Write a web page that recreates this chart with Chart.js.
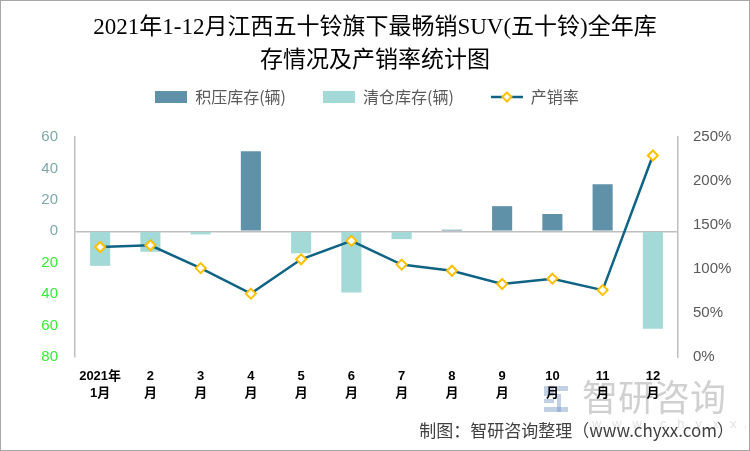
<!DOCTYPE html>
<html>
<head>
<meta charset="utf-8">
<script src="https://cdn.jsdelivr.net/npm/chart.js@4"></script>
<style>
html,body{margin:0;padding:0;background:#fff;}
#wrap{width:750px;height:451px;position:relative;}
</style>
</head>
<body>
<div id="wrap"><canvas id="c" width="750" height="451"></canvas></div>
<script>
// ---- data ----
const months = [["2021年","1月"],["2","月"],["3","月"],["4","月"],["5","月"],["6","月"],["7","月"],["8","月"],["9","月"],["10","月"],["11","月"],["12","月"]];
const overstock = [null,null,null,51,null,null,null,1,16,11,30,null];   // 积压库存(辆)
const clearance = [-22,-13,-2,null,-14,-39,-5,null,null,null,null,-62]; // 清仓库存(辆)
const salesRate = [125,127,101,72,111,132,105,98,83,89,76,229];          // 产销率 (%)
const leftTicks = [60,40,20,0,-20,-40,-60,-80];
const rightTicks = [0,50,100,150,200,250];
const seriesNames = ["积压库存(辆)","清仓库存(辆)","产销率"];
const titleLines = ["2021年1-12月江西五十铃旗下最畅销SUV(五十铃)全年库","存情况及产销率统计图"];

const C_DARK = "#5f91a8", C_LIGHT = "#a3d9d6", C_LINE = "#0f6384", C_MARK = "#ffc000";
const CJK = '"Noto Sans CJK SC", "Noto Sans", sans-serif';

function swatch(color){
  const c=document.createElement('canvas'); c.width=32; c.height=12;
  const x=c.getContext('2d'); x.fillStyle=color; x.fillRect(0,0,32,12); return c;
}
function lineSwatch(){
  const c=document.createElement('canvas'); c.width=32; c.height=12;
  const x=c.getContext('2d');
  x.strokeStyle=C_LINE; x.lineWidth=2.5; x.beginPath(); x.moveTo(0,6); x.lineTo(32,6); x.stroke();
  x.fillStyle="#fff"; x.strokeStyle=C_MARK; x.lineWidth=2;
  x.beginPath(); x.moveTo(16,1.5); x.lineTo(20.5,6); x.lineTo(16,10.5); x.lineTo(11.5,6); x.closePath(); x.fill(); x.stroke();
  return c;
}
const legendIcons=[swatch(C_DARK),swatch(C_LIGHT),lineSwatch()];

const deco = {
  id:'deco',
  afterLayout(chart){
    const t=chart.titleBlock, l=chart.legend;
    if(t){ t.top+=3; t.bottom+=3; }
    if(l){ const dy=52-l.top; l.top+=dy; l.bottom+=dy; l.left-=8; l.right-=8; }
  },
  beforeDraw(chart){
    const ctx=chart.ctx;
    ctx.save();
    ctx.fillStyle="#fff"; ctx.fillRect(0,0,chart.width,chart.height);
    // watermark
    ctx.fillStyle="rgba(120,150,200,0.45)";
    ctx.fillRect(544,386,10,10); ctx.fillRect(557,386,11,5); ctx.fillRect(544,399,10,4);
    ctx.fillRect(557,394,4,18); ctx.fillRect(544,407,24,5);
    ctx.fillStyle="rgba(150,150,150,0.45)";
    ctx.font='36px '+CJK; ctx.textBaseline='middle'; ctx.textAlign='left';
    ctx.fillText("智研咨询",582,397);
    ctx.fillStyle="rgba(170,170,170,0.35)";
    ctx.font='13px "Liberation Sans", sans-serif';
    ctx.fillText("w   w   w  .  c   h   y   x   x  .  c   o   m",592,424);
    ctx.restore();
  },
  afterDraw(chart){
    const ctx=chart.ctx;
    ctx.save();
    ctx.fillStyle="#404040"; ctx.font='17px '+CJK; ctx.textAlign='right'; ctx.textBaseline='middle';
    ctx.fillText("制图：智研咨询整理（www.chyxx.com）",734,431);
    ctx.strokeStyle="#a6a6a6"; ctx.lineWidth=1; ctx.strokeRect(0.5,0.5,749,450);
    ctx.restore();
  }
};

new Chart(document.getElementById('c'),{
  data:{
    labels:months,
    datasets:[
      {type:'line',label:seriesNames[2],data:salesRate,yAxisID:'y1',borderColor:C_LINE,borderWidth:2.5,
       pointStyle:'rectRot',pointRadius:5,pointBorderColor:C_MARK,pointBackgroundColor:'#fff',pointBorderWidth:2,tension:0,order:0},
      {type:'bar',label:seriesNames[0],data:overstock,backgroundColor:C_DARK,yAxisID:'y',grouped:false,categoryPercentage:1,barPercentage:0.4,order:1},
      {type:'bar',label:seriesNames[1],data:clearance,backgroundColor:C_LIGHT,yAxisID:'y',grouped:false,categoryPercentage:1,barPercentage:0.4,order:2}
    ]
  },
  options:{
    responsive:false,animation:false,devicePixelRatio:1,
    layout:{padding:{left:0,right:0,top:0,bottom:0}},
    plugins:{
      title:{display:true,text:titleLines,color:'#000',font:{family:'"Liberation Serif", "Noto Sans CJK SC", serif',size:23,weight:'normal',lineHeight:1.435},padding:{top:8,bottom:0}},
      legend:{display:true,position:'top',
        labels:{usePointStyle:true,pointStyleWidth:32,boxHeight:12,padding:37,color:'#595959',font:{family:CJK,size:16},
          generateLabels(chart){
            return [1,2,0].map((di,i)=>({text:chart.data.datasets[di].label,pointStyle:legendIcons[i],datasetIndex:di,hidden:false,lineWidth:0,strokeStyle:'transparent',fillStyle:'transparent',fontColor:'#595959'}));
          }
        }
      },
      tooltip:{enabled:false}
    },
    scales:{
      x:{grid:{display:false},border:{display:false},
         ticks:{color:'#000',font:{family:'"Liberation Sans", "Noto Sans CJK SC", sans-serif',size:13,weight:'bold',lineHeight:1.3},maxRotation:0,autoSkip:false,padding:3},
         afterFit(s){s.height=94;}},
      y:{position:'left',min:-80,max:60,
         afterBuildTicks(s){s.ticks=leftTicks.map(v=>({value:v}));},
         border:{display:true,color:'#bfbfbf',width:1.5},
         grid:{drawTicks:false,color:c=>c.tick&&c.tick.value===0?'#bfbfbf':'transparent',lineWidth:1.5},
         ticks:{padding:17,font:{family:'"Liberation Sans", sans-serif',size:15},
           color:c=>c.tick.value<0?'#33ee33':'#7fa8a8',callback:v=>Math.abs(v)},
         afterFit(s){s.width=75;}},
      y1:{position:'right',min:0,max:250,
         afterBuildTicks(s){s.ticks=rightTicks.map(v=>({value:v}));},
         border:{display:true,color:'#bfbfbf',width:1.5},
         grid:{drawOnChartArea:false,drawTicks:false},
         ticks:{padding:15,color:'#595959',font:{family:'"Liberation Sans", sans-serif',size:15},callback:v=>v+'%'},
         afterFit(s){s.width=72;}}
    }
  },
  plugins:[deco]
});
</script>
</body>
</html>
